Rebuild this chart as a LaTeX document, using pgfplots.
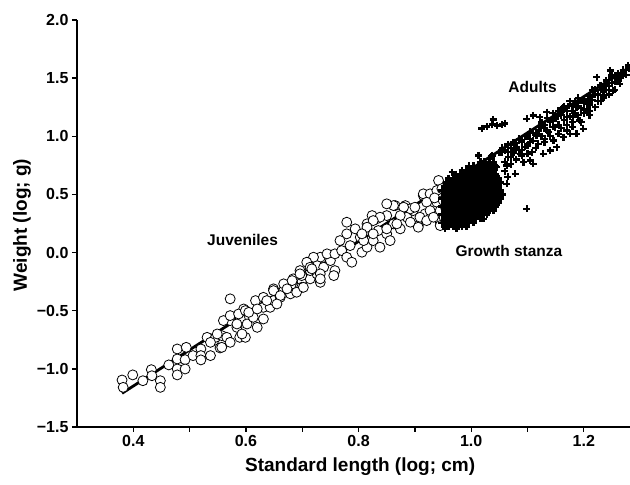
\documentclass[border=0pt]{standalone}
\usepackage{fontspec}
\setmainfont{Liberation Sans}
\usepackage{pgfplots}
\pgfplotsset{compat=1.18}
\begin{document}
\begin{tikzpicture}
\useasboundingbox (0,0) rectangle (630pt,485pt);
\begin{axis}[
  at={(77pt,58pt)}, anchor=south west,
  scale only axis, width=553pt, height=407pt,
  xmin=0.3, xmax=1.282, ymin=-1.5, ymax=2.0,
  axis lines=left,
  axis line style={line width=1.3pt,-},
  tick align=outside,
  major tick length=5pt,
  every tick/.style={line width=1.3pt, black},
  xtick={0.4,0.5,0.6,0.7,0.8,0.9,1.0,1.1,1.2},
  xticklabels={0.4,,0.6,,0.8,,1.0,,1.2},
  ytick={-1.5,-1,-0.5,0,0.5,1,1.5,2},
  yticklabels={−1.5,−1.0,−0.5,0.0,0.5,1.0,1.5,2.0},
  ticklabel style={font=\fontsize{16}{19}\selectfont\bfseries},
  xlabel={Standard length (log; cm)},
  ylabel={Weight (log; g)},
  label style={font=\fontsize{19}{22}\selectfont\bfseries},
  x label style={at={(axis description cs:0.512,0)}, anchor=center, yshift=-40pt},
  y label style={at={(axis description cs:-0.0995,0.496)}, anchor=center},
  clip=true,
]
% fitted line
\addplot[black, line width=2.8pt] coordinates {(0.38,-1.21) (1.28,1.59)};
% juveniles
\addplot[only marks, mark=*, mark size=5pt, mark options={fill=white, draw=black, line width=0.8pt}] table {
0.380 -1.096
0.382 -1.159
0.399 -1.052
0.417 -1.102
0.432 -1.007
0.433 -1.059
0.448 -1.102
0.448 -1.159
0.463 -0.966
0.478 -0.829
0.478 -0.915
0.478 -1.001
0.478 -1.052
0.494 -0.815
0.492 -0.921
0.492 -1.001
0.506 -0.886
0.520 -0.829
0.520 -0.886
0.520 -0.923
0.537 -0.886
0.531 -0.729
0.543 -0.757
0.554 -0.820
0.546 -0.729
0.557 -0.714
0.566 -0.729
0.572 -0.398
0.572 -0.772
0.572 -0.585
0.584 -0.643
0.589 -0.729
0.599 -0.729
0.590 -0.571
0.602 -0.614
0.613 -0.557
0.620 -0.643
0.631 -0.571
0.631 -0.471
0.643 -0.471
0.649 -0.413
0.649 -0.312
0.661 -0.385
0.667 -0.327
0.679 -0.355
0.684 -0.269
0.696 -0.299
0.699 -0.241
0.714 -0.226
0.726 -0.183
0.726 -0.069
0.732 -0.040
0.732 -0.256
0.684 -0.226
0.699 -0.198
0.714 -0.155
0.726 -0.112
0.738 -0.126
0.750 -0.069
0.744 -0.011
0.758 -0.011
0.758 -0.155
0.770 0.017
0.779 -0.040
0.785 0.060
0.788 -0.083
0.803 0.132
0.806 0.003
0.815 0.189
0.815 0.046
0.826 0.103
0.832 0.290
0.835 0.189
0.838 0.046
0.779 0.261
0.850 0.318
0.850 0.161
0.862 0.247
0.865 0.404
0.856 0.103
0.874 0.204
0.883 0.404
0.886 0.304
0.897 0.361
0.906 0.232
0.915 0.490
0.918 0.333
0.815 0.247
0.824 0.318
0.794 0.204
0.779 0.161
0.767 0.103
0.720 -0.040
0.708 -0.083
0.732 -0.183
0.942 0.620
0.915 0.505
0.927 0.505
0.939 0.534
0.921 0.433
0.939 0.433
0.945 0.361
0.909 0.304
0.892 0.376
0.900 0.390
0.880 0.390
0.862 0.404
0.850 0.419
0.838 0.304
0.826 0.275
0.874 0.318
0.892 0.261
0.921 0.275
0.906 0.218
0.945 0.261
0.945 0.232
0.815 0.218
0.809 0.103
0.826 0.161
0.850 0.204
0.868 0.247
0.927 0.361
0.933 0.304
0.596 -0.485
0.617 -0.413
0.631 -0.385
0.649 -0.327
0.661 -0.370
0.667 -0.269
0.682 -0.241
0.696 -0.155
0.699 -0.299
0.714 -0.126
0.732 -0.226
0.756 -0.198
0.806 0.161
0.560 -0.585
0.572 -0.542
0.584 -0.614
0.593 -0.700
0.587 -0.528
0.599 -0.499
0.537 -0.772
0.549 -0.700
0.557 -0.815
0.605 -0.514
0.620 -0.485
0.637 -0.413
0.655 -0.442
0.673 -0.312
0.690 -0.341
0.702 -0.299
0.717 -0.140
0.696 -0.183
0.950 0.450
0.952 0.300
0.948 0.550
0.935 0.470
0.955 0.380
};
% growth stanza blob
\addplot[only marks, mark=+, mark size=3.5pt, mark options={line width=2.6pt}] table {
0.952 0.22
0.960 0.22
0.968 0.22
0.976 0.22
0.984 0.22
0.992 0.22
0.948 0.255
0.956 0.255
0.964 0.255
0.972 0.255
0.980 0.255
0.988 0.255
0.996 0.255
1.004 0.255
0.952 0.29
0.960 0.29
0.968 0.29
0.976 0.29
0.984 0.29
0.992 0.29
1.000 0.29
1.008 0.29
1.016 0.29
0.948 0.325
0.956 0.325
0.964 0.325
0.972 0.325
0.980 0.325
0.988 0.325
0.996 0.325
1.004 0.325
1.012 0.325
1.020 0.325
1.028 0.325
0.952 0.36
0.960 0.36
0.968 0.36
0.976 0.36
0.984 0.36
0.992 0.36
1.000 0.36
1.008 0.36
1.016 0.36
1.024 0.36
1.032 0.36
1.040 0.36
0.948 0.395
0.956 0.395
0.964 0.395
0.972 0.395
0.980 0.395
0.988 0.395
0.996 0.395
1.004 0.395
1.012 0.395
1.020 0.395
1.028 0.395
1.036 0.395
1.044 0.395
0.952 0.43
0.960 0.43
0.968 0.43
0.976 0.43
0.984 0.43
0.992 0.43
1.000 0.43
1.008 0.43
1.016 0.43
1.024 0.43
1.032 0.43
1.040 0.43
1.048 0.43
0.948 0.465
0.956 0.465
0.964 0.465
0.972 0.465
0.980 0.465
0.988 0.465
0.996 0.465
1.004 0.465
1.012 0.465
1.020 0.465
1.028 0.465
1.036 0.465
1.044 0.465
1.052 0.465
0.952 0.50
0.960 0.50
0.968 0.50
0.976 0.50
0.984 0.50
0.992 0.50
1.000 0.50
1.008 0.50
1.016 0.50
1.024 0.50
1.032 0.50
1.040 0.50
1.048 0.50
1.056 0.50
0.948 0.535
0.956 0.535
0.964 0.535
0.972 0.535
0.980 0.535
0.988 0.535
0.996 0.535
1.004 0.535
1.012 0.535
1.020 0.535
1.028 0.535
1.036 0.535
1.044 0.535
1.052 0.535
0.952 0.57
0.960 0.57
0.968 0.57
0.976 0.57
0.984 0.57
0.992 0.57
1.000 0.57
1.008 0.57
1.016 0.57
1.024 0.57
1.032 0.57
1.040 0.57
1.048 0.57
0.956 0.605
0.964 0.605
0.972 0.605
0.980 0.605
0.988 0.605
0.996 0.605
1.004 0.605
1.012 0.605
1.020 0.605
1.028 0.605
1.036 0.605
1.044 0.605
1.052 0.605
0.960 0.64
0.968 0.64
0.976 0.64
0.984 0.64
0.992 0.64
1.000 0.64
1.008 0.64
1.016 0.64
1.024 0.64
1.032 0.64
1.040 0.64
1.048 0.64
0.972 0.675
0.980 0.675
0.988 0.675
0.996 0.675
1.004 0.675
1.012 0.675
1.020 0.675
1.028 0.675
1.036 0.675
1.044 0.675
0.984 0.71
0.992 0.71
1.000 0.71
1.008 0.71
1.016 0.71
1.024 0.71
1.032 0.71
1.040 0.71
0.996 0.745
1.004 0.745
1.012 0.745
1.020 0.745
1.028 0.745
1.036 0.745
1.044 0.745
1.016 0.78
1.024 0.78
1.032 0.78
1.040 0.78
};
% adults and scattered growth-stanza fish
\addplot[only marks, mark=+, mark size=3.5pt, mark options={line width=2.2pt}] table {
0.966 0.691
1.013 0.835
1.037 0.835
1.051 0.863
1.066 0.863
1.078 0.892
1.087 0.849
1.093 0.777
1.105 0.792
1.078 0.677
1.063 0.591
1.051 0.505
1.042 0.419
1.099 0.376
1.022 0.290
0.992 0.232
0.974 0.204
0.954 0.204
1.063 0.749
1.045 0.734
1.036 0.826
1.054 0.863
1.066 0.820
1.081 0.906
1.090 0.835
1.108 0.863
1.110 0.763
1.119 0.935
1.105 0.949
1.116 1.007
1.131 0.978
1.137 1.035
1.099 1.151
1.110 1.179
1.122 1.164
1.134 1.207
1.122 1.078
1.149 1.078
1.164 0.992
1.176 1.021
1.187 1.021
1.199 1.065
1.146 1.151
1.158 1.194
1.170 1.164
1.164 1.250
1.176 1.280
1.187 1.250
1.199 1.308
1.211 1.337
1.217 1.394
1.229 1.437
1.223 1.509
1.247 1.566
1.250 1.523
1.241 1.452
1.258 1.509
1.270 1.566
1.279 1.609
1.264 1.452
1.252 1.394
1.235 1.351
1.205 1.222
1.193 1.136
1.181 1.164
1.146 0.964
1.152 0.906
1.140 0.878
1.128 0.849
1.019 1.067
1.028 1.084
1.037 1.102
1.046 1.093
1.055 1.102
1.039 1.145
1.060 1.110
1.12 1.05
1.13 1.10
1.14 1.12
1.15 1.15
1.16 1.18
1.17 1.22
1.18 1.26
1.19 1.29
1.20 1.32
1.21 1.35
1.22 1.40
1.23 1.44
1.24 1.48
1.25 1.50
1.26 1.54
1.27 1.57
1.125 1.00
1.135 1.05
1.145 1.08
1.155 1.10
1.165 1.14
1.175 1.17
1.185 1.20
1.195 1.24
1.205 1.28
1.215 1.31
1.225 1.36
1.235 1.40
1.245 1.43
1.255 1.47
1.265 1.50
1.275 1.53
1.06 0.70
1.07 0.76
1.08 0.80
1.09 0.88
1.10 0.92
1.11 0.96
1.115 0.90
1.10 0.85
1.09 0.95
1.075 0.86
1.06 0.78
1.065 0.65
1.155 1.22
1.165 1.26
1.175 1.30
1.185 1.30
1.19 1.33
1.20 1.23
1.21 1.27
1.215 1.40
1.07 0.82
1.085 0.88
1.095 0.91
1.105 0.98
1.115 1.03
1.125 1.12
1.135 1.16
1.145 1.20
1.16 1.07
1.17 1.10
1.18 1.12
1.19 1.18
1.20 1.20
1.21 1.22
1.225 1.30
1.235 1.33
1.24 1.40
1.26 1.48
1.27 1.52
1.05 0.86
1.055 0.90
1.06 0.88
1.065 0.93
1.07 0.90
1.075 0.95
1.08 0.94
1.085 0.98
1.09 0.97
1.095 1.00
1.10 1.00
1.105 1.04
1.11 1.03
1.12 1.08
1.13 1.07
1.14 1.14
1.15 1.17
1.16 1.21
1.17 1.24
1.18 1.22
1.19 1.26
1.20 1.29
1.21 1.32
1.22 1.36
1.23 1.40
1.24 1.44
1.25 1.46
1.26 1.50
1.27 1.54
1.275 1.57
1.28 1.58
1.13 0.95
1.14 1.00
1.155 1.02
1.17 1.05
1.18 1.08
1.195 1.12
1.21 1.18
1.22 1.25
1.23 1.30
1.245 1.36
1.255 1.40
};
\node[font=\fontsize{15.5}{18}\selectfont\bfseries, anchor=center] at (axis cs:0.594,0.112) {Juveniles};
\node[font=\fontsize{15.5}{18}\selectfont\bfseries, anchor=center] at (axis cs:1.109,1.423) {Adults};
\node[font=\fontsize{15.5}{18}\selectfont\bfseries, anchor=center] at (axis cs:1.067,0.010) {Growth stanza};
\end{axis}
\end{tikzpicture}
\end{document}
